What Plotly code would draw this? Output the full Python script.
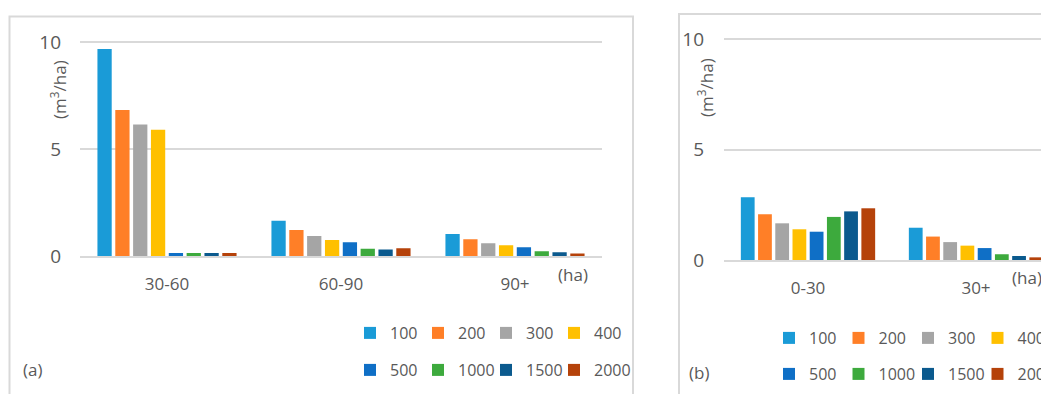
import plotly.graph_objects as go

series = ["100", "200", "300", "400", "500", "1000", "1500", "2000"]
colors = ["#1A9BD7", "#FF7F27", "#A5A5A5", "#FFC000", "#0F6FC6", "#3DAA3D", "#0B5A8E", "#B5420A"]

cats_a = ["30-60", "60-90", "90+"]
vals_a = {
    "100": [9.67, 1.65, 1.03],
    "200": [6.82, 1.21, 0.78],
    "300": [6.14, 0.93, 0.59],
    "400": [5.90, 0.75, 0.50],
    "500": [0.14, 0.64, 0.41],
    "1000": [0.14, 0.34, 0.22],
    "1500": [0.14, 0.30, 0.17],
    "2000": [0.14, 0.36, 0.12],
}

cats_b = ["0-30", "30+"]
vals_b = {
    "100": [2.84, 1.46],
    "200": [2.07, 1.06],
    "300": [1.66, 0.81],
    "400": [1.39, 0.65],
    "500": [1.28, 0.54],
    "1000": [1.95, 0.26],
    "1500": [2.20, 0.18],
    "2000": [2.34, 0.12],
}

# the page body has an 8px margin; lay the figure out in window pixels
OFF = 8
W, H = 1049 - OFF, 394 - OFF
TXT = "#595959"
FONT = "Open Sans"


def px(x):
    return (x - OFF) / W


def py(y):
    return 1 - (y - OFF) / H


fig = go.Figure()
for i, s in enumerate(series):
    leg_a = "legend" if i < 4 else "legend2"
    leg_b = "legend3" if i < 4 else "legend4"
    fig.add_trace(go.Bar(x=cats_a, y=vals_a[s], name=s, marker_color=colors[i],
                         xaxis="x", yaxis="y", legend=leg_a, marker_line_width=0))
    fig.add_trace(go.Bar(x=cats_b, y=vals_b[s], name=s, marker_color=colors[i],
                         xaxis="x2", yaxis="y2", legend=leg_b, marker_line_width=0))

# invisible spacer entries so the last legend text is not clipped by the legend box
for leg, xa, ya, cx in [("legend", "x", "y", cats_a[0]), ("legend2", "x", "y", cats_a[0]),
                        ("legend3", "x2", "y2", cats_b[0]), ("legend4", "x2", "y2", cats_b[0])]:
    fig.add_trace(go.Scatter(x=[cx], y=[0], mode="markers", name=" ", legend=leg,
                             marker=dict(color="rgba(0,0,0,0)", size=1), opacity=0,
                             xaxis=xa, yaxis=ya, hoverinfo="skip"))

axis_common = dict(showgrid=False, zeroline=False, showline=True, linecolor="#D9D9D9",
                   linewidth=2, ticks="", ticklabelstandoff=12,
                   tickfont=dict(size=17, color=TXT, family=FONT))
yaxis_common = dict(range=[0, 10.5], tickvals=[0, 5, 10], showgrid=True, gridcolor="#D9D9D9",
                    gridwidth=2, zeroline=False, showline=False, ticks="",
                    tickfont=dict(size=19, color=TXT, family=FONT))

# panel (a): 0 at y=256, 21.4 px/unit
ya_bot, ya_top = 256, 256 - 10.5 * 21.4
# panel (b): 0 at y=260, 22.1 px/unit
yb_bot, yb_top = 260, 260 - 10.5 * 22.1

fig.update_layout(
    width=W, height=H,
    margin=dict(l=0, r=0, t=0, b=0, autoexpand=False),
    paper_bgcolor="white", plot_bgcolor="white",
    barmode="group", bargap=0.18, bargroupgap=0.2,
    font=dict(family=FONT, color=TXT),
    xaxis=dict(domain=[px(80), px(602)], anchor="y", range=[-0.5, 2.5], **axis_common),
    yaxis=dict(domain=[py(ya_bot), py(ya_top)], anchor="x", ticklabelstandoff=18, **yaxis_common),
    xaxis2=dict(domain=[px(724), 1.0], anchor="y2", range=[-0.5, -0.5 + 325 / 168], **axis_common),
    yaxis2=dict(domain=[py(yb_bot), py(yb_top)], anchor="x2", ticklabelstandoff=19, **yaxis_common),
    showlegend=True,
)

leg_common = dict(orientation="h", xanchor="left", yanchor="middle", bgcolor="rgba(0,0,0,0)",
                  font=dict(size=16, color=TXT, family=FONT),
                  entrywidthmode="pixels", itemclick=False, tracegroupgap=0)
fig.update_layout(
    legend=dict(x=px(350), y=py(333), entrywidth=23, **leg_common),
    legend2=dict(x=px(350), y=py(370), entrywidth=23, **leg_common),
    legend3=dict(x=px(769), y=py(338), entrywidth=24.5, **leg_common),
    legend4=dict(x=px(769), y=py(374), entrywidth=24.5, **leg_common),
)

# panel borders
fig.add_shape(type="rect", xref="paper", yref="paper", x0=px(9.5), x1=px(633), y0=py(420), y1=py(16.5),
              line=dict(color="#D9D9D9", width=2), fillcolor="rgba(0,0,0,0)", layer="below")
fig.add_shape(type="rect", xref="paper", yref="paper", x0=px(679), x1=px(1080), y0=py(420), y1=py(14),
              line=dict(color="#D9D9D9", width=2), fillcolor="rgba(0,0,0,0)", layer="below")

ann = dict(xref="paper", yref="paper", showarrow=False, xanchor="center", yanchor="middle",
           font=dict(size=17, color=TXT, family=FONT))
fig.add_annotation(x=px(573), y=py(274), text="(ha)", **ann)
fig.add_annotation(x=px(1027), y=py(277), text="(ha)", **ann)
fig.add_annotation(x=px(32), y=py(369), text="(a)", **ann)
fig.add_annotation(x=px(699), y=py(372), text="(b)", **ann)
fig.add_annotation(x=px(59), y=py(90), text="(m<sup>3</sup>/ha)", textangle=-90, **ann)
fig.add_annotation(x=px(706), y=py(88), text="(m<sup>3</sup>/ha)", textangle=-90, **ann)

fig.write_html("out.html")
